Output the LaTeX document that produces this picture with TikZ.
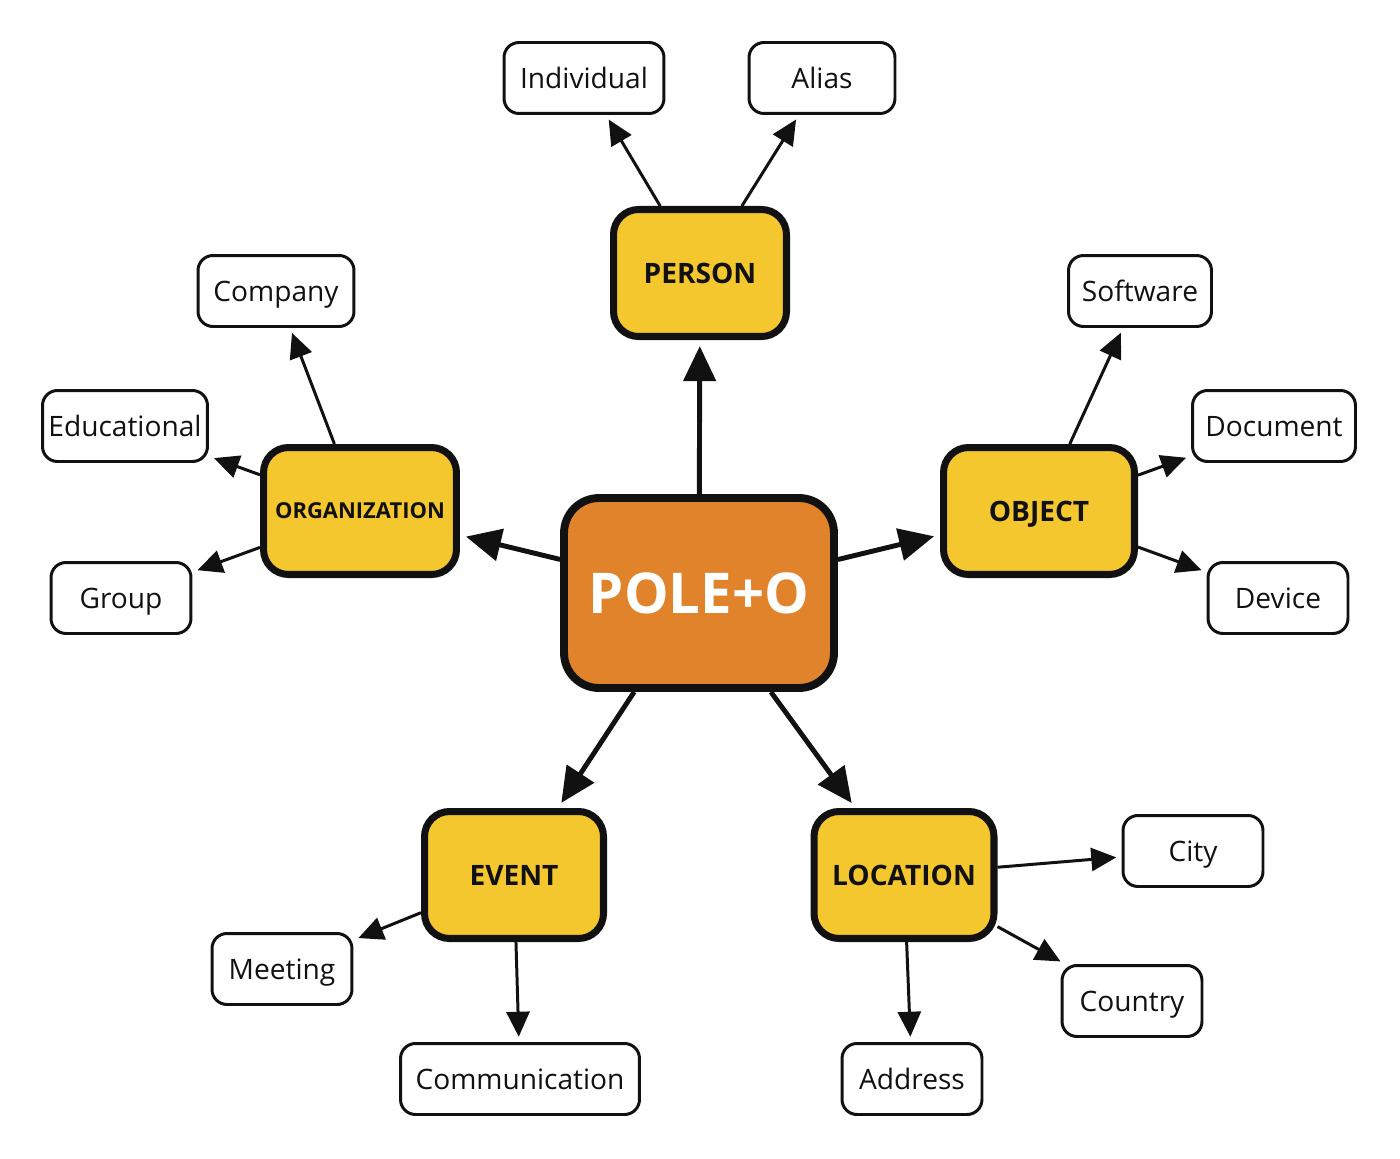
\documentclass[tikz,border=0pt]{standalone}
\usepackage{fontspec}
\setmainfont{Open Sans}
\usepackage{tikz}
\usetikzlibrary{arrows.meta, positioning}

\definecolor{orangepole}{HTML}{E0832A}
\definecolor{jaunecat}{HTML}{F5C72F}
\definecolor{bordnoir}{HTML}{111111}

\tikzset{
    centre/.style={draw=bordnoir, fill=orangepole, line width=4.5pt, rounded corners=0.7cm,
        minimum width=5.4cm, minimum height=3.8cm, text=white, text height=22.9pt, text depth=0pt,
        font=\fontsize{32}{36}\selectfont\bfseries},
    categorie/.style={draw=bordnoir, fill=jaunecat, line width=4pt, rounded corners=0.5cm,
        minimum height=2.54cm, text height=11.4pt, text depth=0pt,
        font=\fontsize{16}{19}\selectfont\bfseries, text=bordnoir},
    feuille/.style={draw=bordnoir, fill=white, line width=1.7pt, rounded corners=0.3cm,
        minimum width=2.8cm, minimum height=1.42cm, text height=11.4pt, text depth=0pt,
        font=\fontsize{16}{19}\selectfont, text=bordnoir},
    grosse/.style={draw=bordnoir, line width=2.8pt, -{Triangle[length=0.7cm, width=0.64cm]}, shorten >=3.5pt},
    fine/.style={draw=bordnoir, line width=1.7pt, -{Triangle[length=0.5cm, width=0.46cm]}, shorten >=3pt}
}

\begin{document}
\begin{tikzpicture}[x=0.02cm, y=-0.02cm]
    % Cadre de la figure
    \useasboundingbox[fill=white] (0,0) rectangle (1400,1159);

    % Noeud central
    \node[centre] (pole) at (699,593) {POLE+O};

    % Categories
    \node[categorie, minimum width=3.46cm] (person) at (700,273) {PERSON};
    \node[categorie, minimum width=3.82cm] (object) at (1039,511) {OBJECT};
    \node[categorie, minimum width=3.86cm, text height=8.9pt,
        font=\fontsize{12.5}{15}\selectfont\bfseries] (orga) at (360,511) {ORGANIZATION};
    \node[categorie, minimum width=3.58cm] (event) at (514,875) {EVENT};
    \node[categorie, minimum width=3.6cm] (location) at (904,875) {LOCATION};

    % Feuilles
    \node[feuille, minimum width=3.2cm] (individual) at (584,78) {Individual};
    \node[feuille, minimum width=2.92cm] (alias) at (822,78) {Alias};
    \node[feuille, minimum width=3.12cm] (company) at (276,291) {Company};
    \node[feuille, minimum width=3.3cm] (educational) at (125,426) {Educational};
    \node[feuille] (group) at (121,598) {Group};
    \node[feuille, minimum width=2.86cm] (software) at (1140,291) {Software};
    \node[feuille, minimum width=3.26cm] (document) at (1274,426) {Document};
    \node[feuille] (device) at (1278,598) {Device};
    \node[feuille] (meeting) at (282,969) {Meeting};
    \node[feuille, minimum width=4.78cm] (communication) at (520,1079) {Communication};
    \node[feuille] (city) at (1193,851) {City};
    \node[feuille] (country) at (1132,1001) {Country};
    \node[feuille] (address) at (912,1079) {Address};

    % Fleches principales
    \draw[grosse] (pole) -- (person);
    \draw[grosse] (pole) -- (orga);
    \draw[grosse] (pole) -- (object);
    \draw[grosse] (pole) -- (event);
    \draw[grosse] (pole) -- (location);

    % Fleches secondaires
    \draw[fine] (person) -- (individual);
    \draw[fine] (person) -- (alias);
    \draw[fine] (orga) -- (company);
    \draw[fine] (orga) -- (educational);
    \draw[fine] (orga) -- (group);
    \draw[fine] (object) -- (software);
    \draw[fine] (object) -- (document);
    \draw[fine] (object) -- (device);
    \draw[fine] (event) -- (meeting);
    \draw[fine] (event) -- (communication);
    \draw[fine] (location) -- (city);
    \draw[fine] (location) -- (country);
    \draw[fine] (location) -- (address);
\end{tikzpicture}
\end{document}
